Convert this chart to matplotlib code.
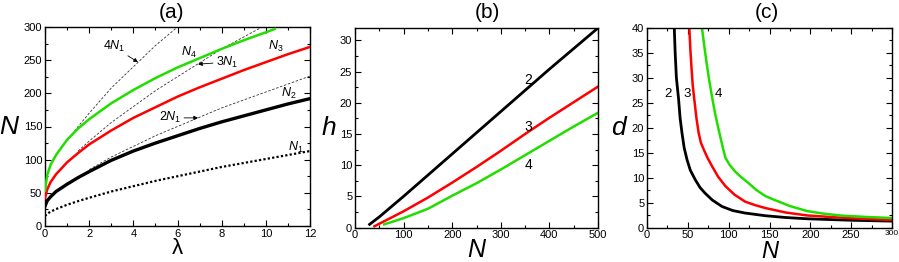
import matplotlib
matplotlib.use("Agg")
import matplotlib.pyplot as plt
from matplotlib.ticker import MultipleLocator

plt.rcParams['font.family'] = ['Liberation Sans', 'DejaVu Sans']
plt.rcParams['mathtext.fontset'] = 'custom'
plt.rcParams['mathtext.rm'] = 'Liberation Sans'
plt.rcParams['mathtext.it'] = 'Liberation Sans:italic'

GREEN = '#22dd00'
RED = '#ff0000'

# ---- panel (a): N vs lambda
lam = [0, 0.1, 0.25, 0.5, 1, 1.5, 2, 3, 4, 5, 6, 7, 8, 9, 10, 11, 12]
N1 = [15, 18.5, 21.5, 25.5, 32, 37.5, 42.5, 52, 60, 68, 75, 82, 89, 95, 101, 107, 113]
N2 = [30, 38, 44, 52, 63, 73, 82, 99, 113, 125, 136, 147, 157, 166, 175, 184, 192]
N3 = [42, 55, 66, 78, 96, 110, 123, 144, 163, 179, 195, 209, 222, 235, 247, 259, 270]
lam4 = [0, 0.1, 0.25, 0.5, 1, 1.5, 2, 3, 4, 5, 6, 7, 8, 9, 10, 10.4]
N4 = [53, 77, 92, 107, 130, 147, 161, 185, 205, 223, 239, 253, 267, 280, 292, 297]

# dashed multiples of N1
lam_2N1 = [2, 3, 4, 5, 6, 7, 8, 9, 10, 11, 12]
val_2N1 = [85, 104, 120, 136, 150, 164, 178, 190, 202, 214, 226]
lam_3N1 = [1.5, 2, 3, 4, 5, 6, 7, 8, 9, 10, 10.5]
val_3N1 = [113, 128, 156, 180, 204, 225, 246, 267, 285, 303, 312]
lam_4N1 = [1, 1.5, 2, 3, 4, 5, 6, 6.2]
val_4N1 = [128, 150, 170, 208, 240, 272, 300, 306]

# ---- panel (b): h vs N
Nb2 = [30, 50, 100, 150, 200, 250, 300, 350, 400, 450, 500]
hb2 = [0.5, 1.7, 5.0, 8.4, 11.8, 15.2, 18.6, 22.0, 25.4, 28.7, 32.0]
Nb3 = [40, 60, 100, 150, 200, 250, 300, 350, 400, 450, 500]
hb3 = [0.2, 1.0, 2.6, 4.8, 7.2, 9.7, 12.3, 15.0, 17.6, 20.1, 22.6]
Nb4 = [60, 100, 150, 200, 250, 300, 350, 400, 450, 500]
hb4 = [0.5, 1.5, 3.0, 5.1, 7.1, 9.3, 11.6, 13.9, 16.2, 18.4]

# ---- panel (c): d vs N
Nc2 = [33.4, 34.5, 36, 38.7, 40.5, 42.8, 45.5, 49, 53, 59, 65, 71, 80, 92,
       105, 120, 145, 170, 196, 250, 300]
dc2 = [40, 35, 30, 25.7, 22, 19, 16, 13.6, 11.5, 9.6, 8.0, 6.9, 5.5, 4.2,
       3.4, 2.9, 2.36, 2.0, 1.75, 1.45, 1.28]
Nc3 = [51.8, 53, 54.5, 56, 57.9, 60.5, 63.2, 66, 69.3, 74, 79.6, 87, 96, 107,
       120, 132, 145, 170, 196, 225, 250, 300]
dc3 = [40, 36, 32, 28.5, 25.7, 22, 19, 17, 15.7, 14, 12.3, 10.2, 8.3, 6.6,
       5.2, 4.5, 3.9, 3.0, 2.42, 2.1, 1.85, 1.5]
Nc4 = [67.3, 70, 73, 76, 79.6, 83, 86.5, 90, 93, 96, 101, 108, 116, 124, 134,
       145, 155, 175, 196, 215, 237, 270, 300]
dc4 = [40, 36.6, 33, 29.7, 26.2, 23.2, 20.5, 18, 15.9, 14, 12.6, 11.2, 10.0, 8.95, 7.5,
       6.3, 5.6, 4.3, 3.3, 2.8, 2.4, 2.1, 1.9]

fig = plt.figure(figsize=(8.99, 2.62), dpi=100)
W, H = 899, 262
ax_a = fig.add_axes([45 / W, 1 - 226 / H, 265 / W, 199 / H])
ax_b = fig.add_axes([355 / W, 1 - 227.5 / H, 243 / W, 199.5 / H])
ax_c = fig.add_axes([647 / W, 1 - 227.5 / H, 245 / W, 199.5 / H])


def style(ax, xmaj, xmin, ymaj, ymin):
    ax.xaxis.set_major_locator(MultipleLocator(xmaj))
    ax.xaxis.set_minor_locator(MultipleLocator(xmin))
    ax.yaxis.set_major_locator(MultipleLocator(ymaj))
    ax.yaxis.set_minor_locator(MultipleLocator(ymin))
    ax.tick_params(which='both', direction='in', top=True, right=True,
                   labelsize=8, pad=2, width=0.8)
    ax.tick_params(which='major', length=4)
    ax.tick_params(which='minor', length=2)
    for s in ax.spines.values():
        s.set_linewidth(1.0)


# panel (a)
dash = dict(color='#333333', lw=0.6, ls=(0, (3, 2)), zorder=1)
ax_a.plot(lam_2N1, val_2N1, **dash)
ax_a.plot(lam_3N1, val_3N1, **dash)
ax_a.plot(lam_4N1, val_4N1, **dash)
ax_a.plot(lam, N1, color='k', lw=1.6, ls=(0, (1, 1)), zorder=2)
ax_a.plot(lam, N2, color='k', lw=2.4, zorder=3)
ax_a.plot(lam, N3, color=RED, lw=1.8, zorder=3)
ax_a.plot(lam4, N4, color=GREEN, lw=1.8, zorder=3)
ax_a.set_xlim(0, 12)
ax_a.set_ylim(0, 300)
style(ax_a, 2, 1, 50, 25)

arr = dict(arrowstyle='-|>', lw=0.6, color='k', mutation_scale=6, shrinkA=0, shrinkB=0)
ax_a.annotate('$4N_1$', xy=(4.21, 247), xytext=(3.12, 270), fontsize=9,
              ha='center', va='center', arrowprops=arr)
ax_a.annotate('$3N_1$', xy=(6.93, 244), xytext=(8.24, 247), fontsize=9,
              ha='center', va='center', arrowprops=arr)
ax_a.annotate('$2N_1$', xy=(6.93, 163), xytext=(5.66, 163), fontsize=9,
              ha='center', va='center', arrowprops=arr)
ax_a.text(6.52, 261, '$N_4$', fontsize=9, ha='center', va='center')
ax_a.text(10.46, 270, '$N_3$', fontsize=9, ha='center', va='center')
ax_a.text(11.05, 200, '$N_2$', fontsize=9, ha='center', va='center')
ax_a.text(11.37, 119, '$N_1$', fontsize=9, ha='center', va='center')

ax_a.set_xlabel('λ', fontsize=16, va='top')
ax_a.xaxis.set_label_coords(0.5, -0.06)
ax_a.set_ylabel('N', fontsize=19, style='italic', rotation=0, ha='center', va='center')
ax_a.yaxis.set_label_coords(-0.136, 0.5)

# panel (b)
ax_b.plot(Nb2, hb2, color='k', lw=2.0)
ax_b.plot(Nb3, hb3, color=RED, lw=1.8)
ax_b.plot(Nb4, hb4, color=GREEN, lw=1.8)
ax_b.set_xlim(0, 500)
ax_b.set_ylim(0, 32)
style(ax_b, 100, 50, 5, 2.5)
ax_b.text(356, 23.7, '2', fontsize=10, ha='center', va='center')
ax_b.text(356, 16.1, '3', fontsize=10, ha='center', va='center')
ax_b.text(356, 10.0, '4', fontsize=10, ha='center', va='center')
ax_b.set_xlabel('N', fontsize=18, style='italic', va='top')
ax_b.xaxis.set_label_coords(0.5, -0.055)
ax_b.set_ylabel('h', fontsize=19, style='italic', rotation=0, ha='center', va='center')
ax_b.yaxis.set_label_coords(-0.107, 0.5)

# panel (c)
ax_c.plot(Nc2, dc2, color='k', lw=2.0)
ax_c.plot(Nc3, dc3, color=RED, lw=1.8)
ax_c.plot(Nc4, dc4, color=GREEN, lw=1.8)
ax_c.set_xlim(0, 300)
ax_c.set_ylim(0, 40)
style(ax_c, 50, 25, 5, 2.5)
ax_c.text(25.7, 26.8, '2', fontsize=9.5, ha='center', va='center')
ax_c.text(49, 26.8, '3', fontsize=9.5, ha='center', va='center')
ax_c.text(88, 26.8, '4', fontsize=9.5, ha='center', va='center')
ax_c.set_xlabel('N', fontsize=17, style='italic', va='top')
ax_c.xaxis.set_label_coords(0.5, -0.062)
ax_c.set_ylabel('d', fontsize=19, style='italic', rotation=0, ha='center', va='center')
ax_c.yaxis.set_label_coords(-0.118, 0.5)
fig.canvas.draw()
for lbl in ax_c.get_xticklabels():
    if lbl.get_text() == '300':
        lbl.set_fontsize(6)

fig.text(171 / W, 1 - 12 / H, '(a)', fontsize=15, ha='center', va='center')
fig.text(487 / W, 1 - 12 / H, '(b)', fontsize=15, ha='center', va='center')
fig.text(767 / W, 1 - 12 / H, '(c)', fontsize=15, ha='center', va='center')

fig.savefig('out.png', dpi=100)
